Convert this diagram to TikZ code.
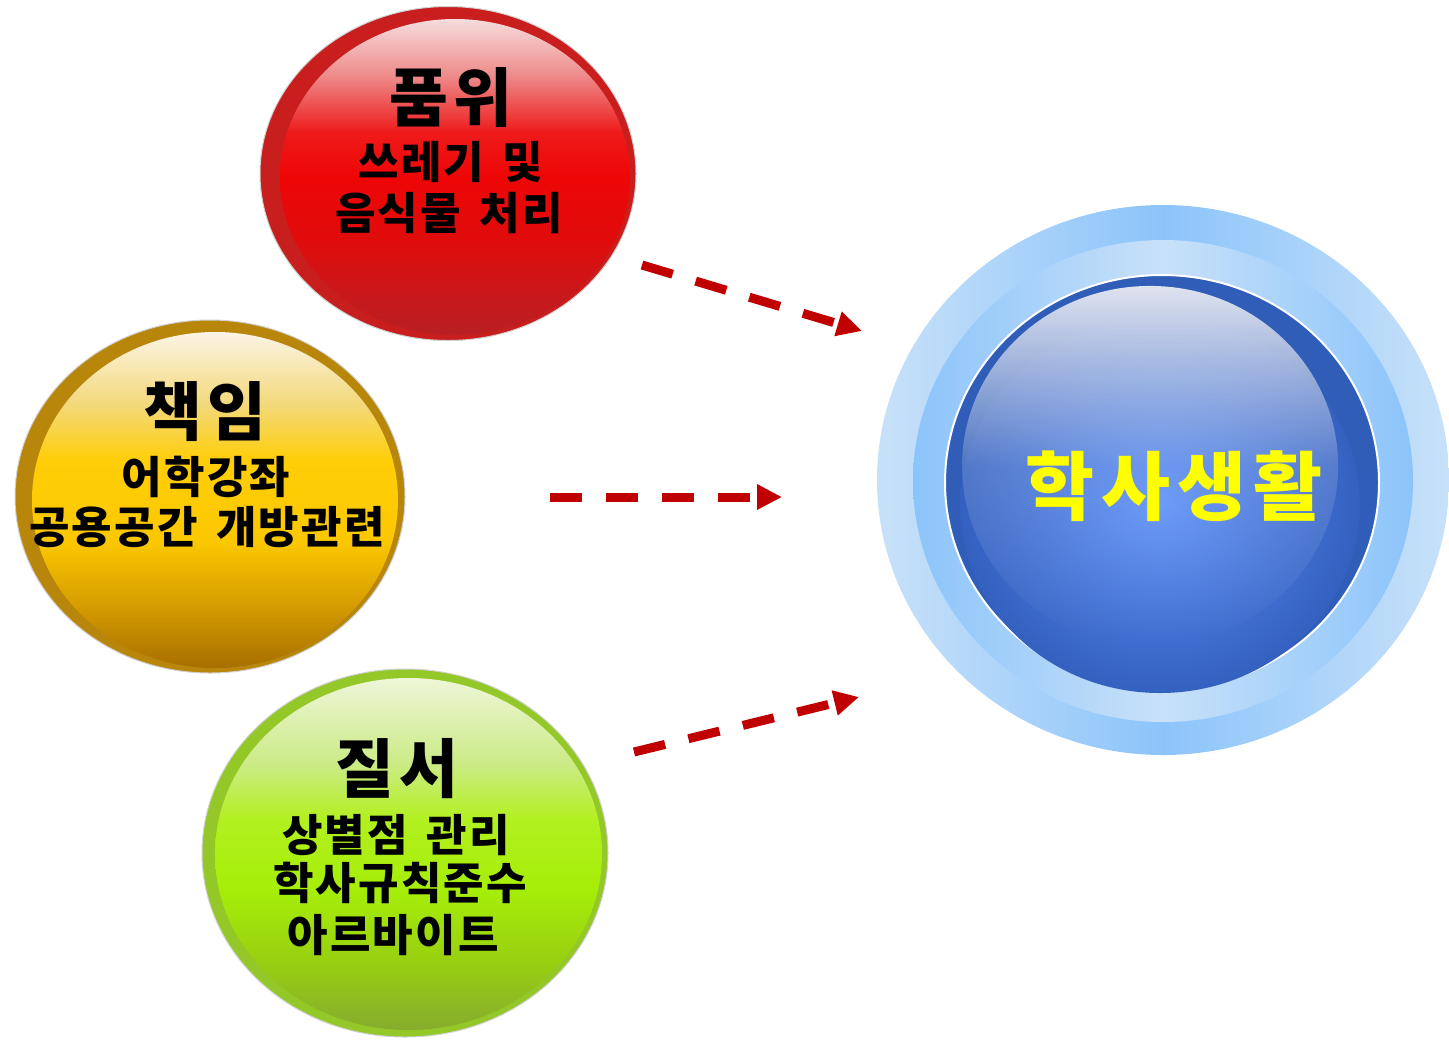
\documentclass[tikz,border=0pt]{standalone}
\usepackage{fontspec}
\setmainfont{Noto Sans CJK KR}
\newfontfamily\krtitle{Noto Sans CJK KR}[LetterSpace=9]
\newfontfamily\krsub{Noto Sans CJK KR}[LetterSpace=5,WordSpace=1.5]
\newfontfamily\krgoal{Noto Sans CJK KR}[LetterSpace=9]
\usetikzlibrary{arrows.meta,fadings}
% ball colours
\definecolor{rA}{HTML}{F6DCDC}\definecolor{rB}{HTML}{EE8A8A}\definecolor{rC}{HTML}{EE1A1A}
\definecolor{rD}{HTML}{EE0606}\definecolor{rE}{HTML}{E00C0C}\definecolor{rF}{HTML}{B82024}
\definecolor{rRim}{HTML}{C81E1E}
\definecolor{yA}{HTML}{FBF4E6}\definecolor{yB}{HTML}{F3D878}\definecolor{yC}{HTML}{FFCE08}
\definecolor{yD}{HTML}{FBC800}\definecolor{yE}{HTML}{D8A000}\definecolor{yF}{HTML}{A86E00}
\definecolor{yRim}{HTML}{B8860A}
\definecolor{gA}{HTML}{EEF6D8}\definecolor{gB}{HTML}{CCEB88}\definecolor{gC}{HTML}{B2F020}
\definecolor{gD}{HTML}{A6EE08}\definecolor{gE}{HTML}{98D010}\definecolor{gF}{HTML}{86AC2E}
\definecolor{gRim}{HTML}{94C828}
\definecolor{bLight}{HTML}{C8E1F9}\definecolor{bMid}{HTML}{8CC4FA}
\definecolor{bRim}{HTML}{2F5DB8}\definecolor{bCore}{HTML}{5A8FFA}\definecolor{bEdge}{HTML}{3461C0}
\definecolor{bGlow}{HTML}{E0E4F0}
\definecolor{arrowred}{HTML}{C00000}
\pgfdeclareverticalshading{redin}{100bp}{color(0bp)=(rF); color(25bp)=(rF); color(40bp)=(rE); color(50bp)=(rD); color(57bp)=(rC); color(66bp)=(rB); color(75bp)=(rA); color(100bp)=(rA)}
\pgfdeclareverticalshading{yellowin}{100bp}{color(0bp)=(yF); color(25bp)=(yF); color(35bp)=(yE); color(44bp)=(yD); color(56bp)=(yC); color(64bp)=(yB); color(75bp)=(yA); color(100bp)=(yA)}
\pgfdeclareverticalshading{greenin}{100bp}{color(0bp)=(gF); color(25bp)=(gF); color(35bp)=(gE); color(45bp)=(gD); color(55bp)=(gC); color(63bp)=(gB); color(75bp)=(gA); color(100bp)=(gA)}
\tikzfading[name=glowtop, top color=transparent!0, bottom color=transparent!100, middle color=transparent!82]
\tikzset{
  rim/.style={draw=black!18, line width=0.5pt},
  title/.style={anchor=base, font=\krtitle\fontsize{32}{32}\selectfont\bfseries, text=black, inner sep=0pt},
  sub/.style={anchor=base, font=\krsub\fontsize{22}{22}\selectfont\bfseries, text=black, inner sep=0pt},
  flow/.style={draw=arrowred, line width=4.5pt, dash pattern=on 16pt off 12pt,
    -{Triangle[length=12.5pt,width=12pt]}}
}
\begin{document}
\begin{tikzpicture}[x=0.5pt,y=-0.5pt]
\useasboundingbox (0,0) rectangle (1449,1040);
% ---------- red ball ----------
\fill[rRim, rim] (448,173.5) ellipse [x radius=94pt, y radius=83.5pt];
\shade[shading=redin] (455,177) ellipse [x radius=87.5pt, y radius=79pt];
% ---------- yellow ball ----------
\fill[yRim, rim] (210,496.5) ellipse [x radius=97.5pt, y radius=88.25pt];
\shade[shading=yellowin] (215,500) ellipse [x radius=91.5pt, y radius=84pt];
% ---------- green ball ----------
\fill[gRim, rim] (405,853) ellipse [x radius=101.5pt, y radius=92pt];
\shade[shading=greenin] (408.5,854) ellipse [x radius=96.75pt, y radius=88pt];
% ---------- blue target ----------
\shade[left color=bLight, right color=bLight, middle color=bMid] (1163,480) ellipse [x radius=143pt, y radius=137.5pt];
\shade[left color=bMid, right color=bMid, middle color=bLight] (1163,481) ellipse [x radius=125pt, y radius=120.5pt];
\fill[bRim, draw=white, line width=1pt] (1162,482.5) ellipse [x radius=108.5pt, y radius=103.75pt];
\shade[inner color=bCore, outer color=bEdge] (1160,505) ellipse [x radius=100pt, y radius=94pt];
\fill[bGlow, path fading=glowtop] (1150,466) ellipse [x radius=94pt, y radius=90pt];
% ---------- texts ----------
\node[title] (t1) at (451,121) {품위};
\node[sub] (t1a) at (451,178) {쓰레기 및};
\node[sub] (t1b) at (449,229) {음식물 처리};
\node[title] (t2) at (205,435) {책임};
\node[sub] (t2a) at (206,493) {어학강좌};
\node[sub] (t2b) at (207,543) {공용공간 개방관련};
\node[title] (t3) at (397,792) {질서};
\node[sub] (t3a) at (396,851) {상별점 관리};
\node[sub] (t3b) at (400,899) {학사규칙준수};
\node[sub] (t3c) at (393,951) {아르바이트};
\node[anchor=base, font=\krgoal\fontsize{37.5}{37.5}\selectfont\bfseries, text={rgb,255:red,255;green,255;blue,0}, inner sep=0pt] (goal) at (1174,514) {학사생활};
% ---------- arrows ----------
\coordinate (a1s) at (642,265); \coordinate (a1e) at (862,331);
\coordinate (a2s) at (550,497); \coordinate (a2e) at (782,497);
\coordinate (a3s) at (634,752); \coordinate (a3e) at (859,697);
\draw[flow] (a1s) -- (a1e);
\draw[flow] (a2s) -- (a2e);
\draw[flow] (a3s) -- (a3e);
\end{tikzpicture}
\end{document}
